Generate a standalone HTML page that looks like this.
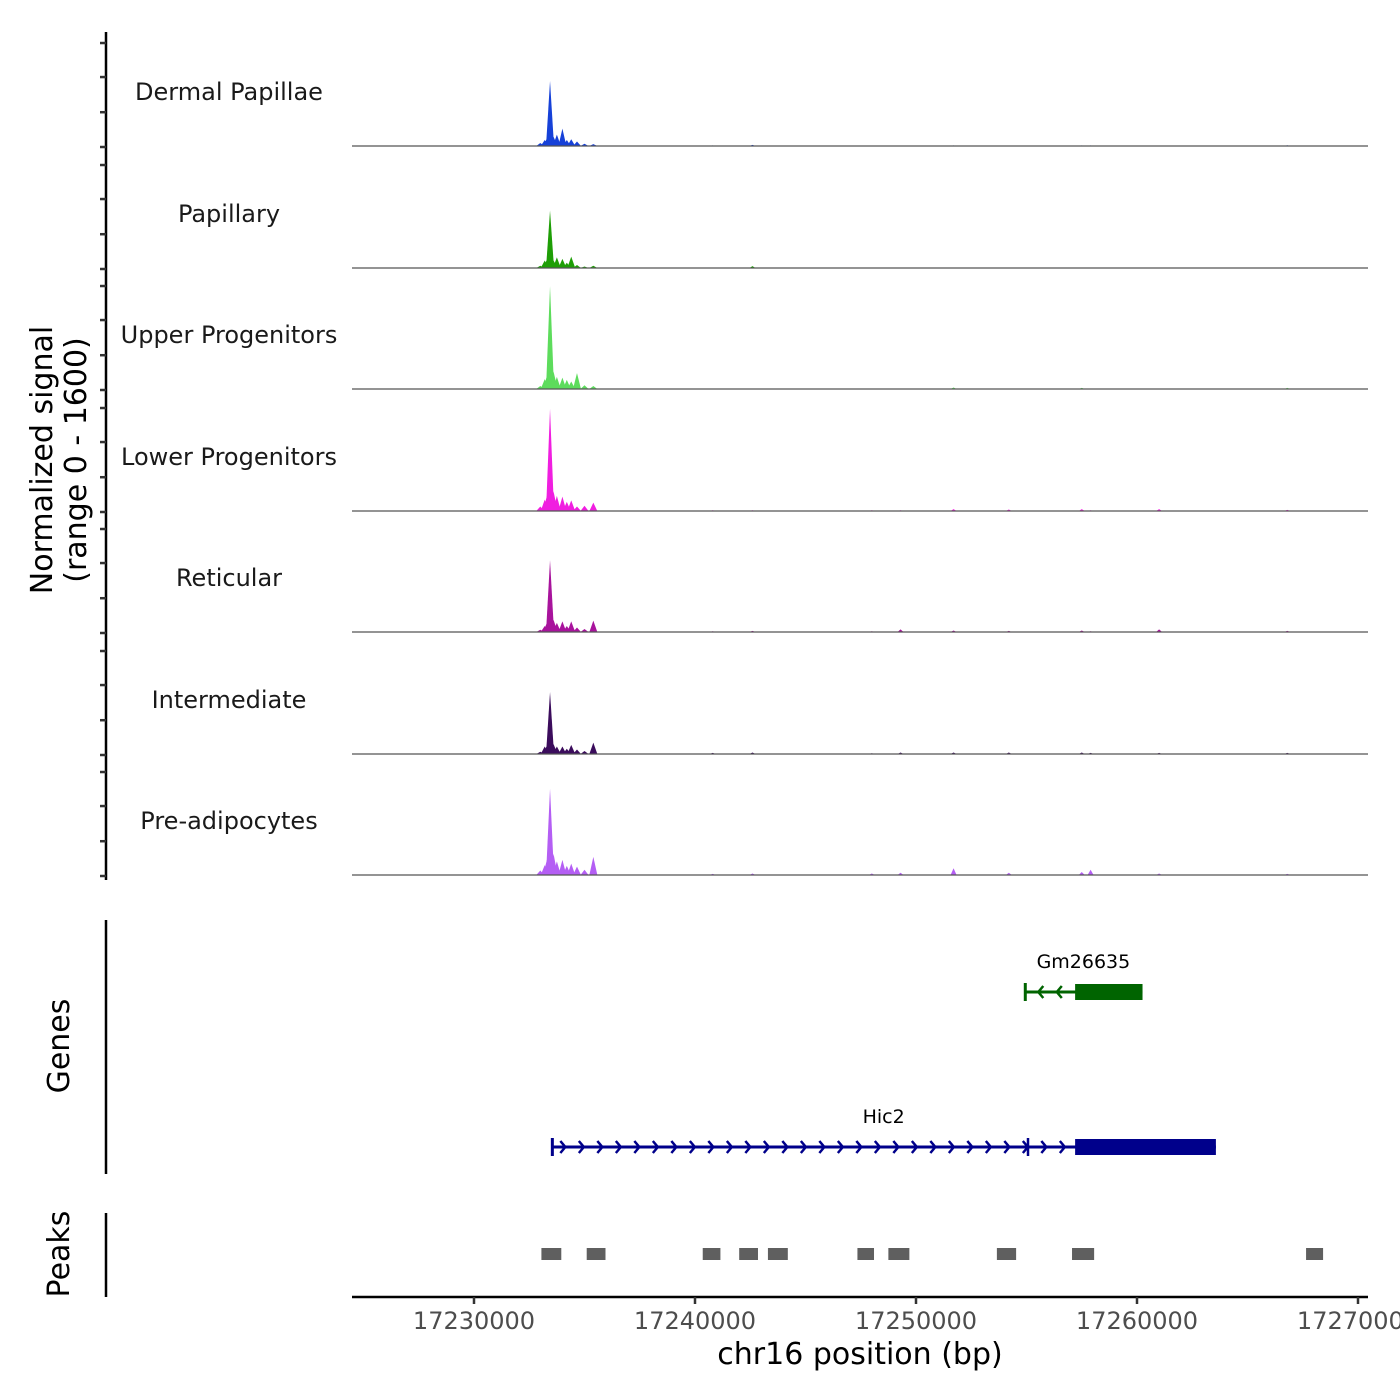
<!DOCTYPE html>
<html><head><meta charset="utf-8"><style>
html,body{margin:0;padding:0;background:#fff;}
svg{display:block;font-family:"DejaVu Sans","Liberation Sans",sans-serif;}
</style></head><body>
<svg id="chart" width="1400" height="1400" viewBox="0 0 1400 1400">
<g id="tracks"></g>
<g id="yaxis"></g>
<text transform="translate(52,460) rotate(-90)" text-anchor="middle" font-size="30" fill="#000">Normalized signal</text>
<text transform="translate(86,460) rotate(-90)" text-anchor="middle" font-size="30" fill="#000">(range 0 - 1600)</text>
<line x1="106" y1="920" x2="106" y2="1174" stroke="#000" stroke-width="2.5"/>
<text transform="translate(69,1046) rotate(-90)" text-anchor="middle" font-size="30" fill="#000">Genes</text>
<line x1="106" y1="1213" x2="106" y2="1297" stroke="#000" stroke-width="2.5"/>
<text transform="translate(69,1254) rotate(-90)" text-anchor="middle" font-size="30" fill="#000">Peaks</text>
<g id="genes"></g>
<g id="peaks"></g>
<g id="xaxis"></g>
<text x="860" y="1364" text-anchor="middle" font-size="30" fill="#000">chr16 position (bp)</text>
</svg>
<script>
const positions = [17233000,17233200,17233300,17233440,17233600,17233750,17234000,17234200,17234400,17234660,17235000,17235400,17240800,17242600,17248000,17249300,17251700,17254200,17257500,17257900,17261000,17266800];
const trackNames = ["Dermal Papillae","Papillary","Upper Progenitors","Lower Progenitors","Reticular","Intermediate","Pre-adipocytes"];
const trackColors = ["#1641d8","#1e9e06","#5ddc5c","#f01ee0","#a8139c","#3b0c5c","#b45ef4"];
const valsDP  = [40,80,100,860,120,150,230,80,90,60,30,25,8,15,5,5,8,5,8,8,5,10];
const valsPap = [30,100,110,760,100,140,120,70,150,40,20,30,5,25,5,5,5,5,5,5,5,5];
const valsUP  = [40,130,170,1360,230,160,150,120,100,210,50,40,5,5,5,5,20,5,15,5,5,15];
const valsLP  = [60,150,200,1350,260,200,190,120,140,60,70,110,10,10,10,10,25,20,25,10,25,15];
const valsRet = [30,80,120,950,160,120,140,80,140,60,40,150,10,15,10,35,20,15,20,10,35,15];
const valsInt = [30,100,110,820,130,100,100,70,120,60,40,150,15,20,10,20,20,20,20,15,15,15];
const valsPA  = [60,130,200,1140,280,180,200,120,150,110,70,240,15,20,20,30,90,30,40,70,20,15];
const trackValues = [valsDP,valsPap,valsUP,valsLP,valsRet,valsInt,valsPA];
const yTickValues = [0,460,925,1375];
const xTicks = [17230000,17240000,17250000,17260000,17270000];
const xTickLabels = ["17230000","17240000","17250000","17260000","17270000"];
const peakStarts = [17233050,17235100,17240350,17242000,17243300,17247350,17248750,17253660,17257060,17267650];
const peakEnds   = [17233950,17235950,17241150,17242850,17244200,17248100,17249700,17254530,17258060,17268420];
const geneNames = ["Gm26635","Hic2"];
const geneStarts = [17254900,17233500];
const geneEnds = [17260250,17263570];
const geneCdsStarts = [17257200,17257200];
const geneStrands = [-1,1];
const yMax = 1600;

const NS="http://www.w3.org/2000/svg";
function X(v){return 474 + (v-17230000)*0.02210;}
function mk(tag,attrs,parent){const e=document.createElementNS(NS,tag);for(const k in attrs)e.setAttribute(k,attrs[k]);parent.appendChild(e);return e;}
const baselines=[146,268,389,511,632,754,875];
const trackH=121;
function Y(v,i){return baselines[i]-v/yMax*trackH;}

const tg=document.getElementById('tracks');
trackValues.forEach((vals,i)=>{
  const g=mk('g',{},tg);
  
  
  vals.forEach((v,j)=>{
    const x=X(positions[j]); const w=j<12?4:3;
    const p=mk('polygon',{points:`${x-w},${baselines[i]} ${x},${Y(v,i)} ${x+w},${baselines[i]}`,fill:trackColors[i]},g);
    
    
  });
  const b=mk('line',{x1:352,x2:1368,y1:baselines[i],y2:baselines[i],stroke:'#555','stroke-width':1.2},g);
  
  
  const t=mk('text',{x:229,y:baselines[i]-46,'text-anchor':'middle','font-size':24,fill:'#1a1a1a'},g);
  t.textContent=trackNames[i];
  
  
});

const ya=document.getElementById('yaxis');
const ax=mk('line',{x1:106,x2:106,y1:32,y2:880,stroke:'#000','stroke-width':2.5},ya);


baselines.forEach((b,i)=>{
  yTickValues.forEach(v=>{
    const yy=Y(v,i)+1;
    const t=mk('line',{x1:100,x2:106,y1:yy,y2:yy,stroke:'#333','stroke-width':2.5},ya);
    
    
  });
});

const gg=document.getElementById('genes');
const geneY=[992,1147];
const geneColors=['#006400','#00008b'];
geneNames.forEach((n,i)=>{
  const g=mk('g',{},gg);
  
  
  const y=geneY[i], c=geneColors[i], x1=X(geneStarts[i]), x2=X(geneEnds[i]), xc=X(geneCdsStarts[i]);
  mk('line',{x1:x1,x2:x2,y1:y,y2:y,stroke:c,'stroke-width':3},g);
  mk('rect',{x:xc,y:y-8,width:x2-xc,height:16,fill:c},g);
  mk('line',{x1:x1+1,x2:x1+1,y1:y-9,y2:y+9,stroke:c,'stroke-width':3},g);
  if(i===1) mk('line',{x1:1028,x2:1028,y1:y-9,y2:y+9,stroke:c,'stroke-width':2.5},g);
  for(let x=x1+14;x<xc-5;x+=18.5){
    const d=geneStrands[i]*5;
    mk('polyline',{points:`${x-d},${y-6} ${x},${y} ${x-d},${y+6}`,fill:'none',stroke:c,'stroke-width':2.5},g);
  }
  const t=mk('text',{x:(X(geneStarts[i])+X(geneEnds[i]))/2,y:y-24,'text-anchor':'middle','font-size':19,fill:'#000'},g);
  t.textContent=n;
  
  
});

const pg=document.getElementById('peaks');
peakStarts.forEach((s,i)=>{
  const r=mk('rect',{x:X(s),y:1248,width:X(peakEnds[i])-X(s),height:12,fill:'#5f5f5f'},pg);
  
  
});

const xa=document.getElementById('xaxis');
mk('line',{x1:352,x2:1368,y1:1297,y2:1297,stroke:'#000','stroke-width':2.5},xa);
xTicks.forEach((v,i)=>{
  const t=mk('line',{x1:X(v),x2:X(v),y1:1297,y2:1304,stroke:'#333','stroke-width':2.5},xa);
  
  
  const l=mk('text',{x:X(v),y:1329,'text-anchor':'middle','font-size':24,fill:'#4d4d4d'},xa);
  l.textContent=xTickLabels[i];
  
  
});
</script>
</body></html>
